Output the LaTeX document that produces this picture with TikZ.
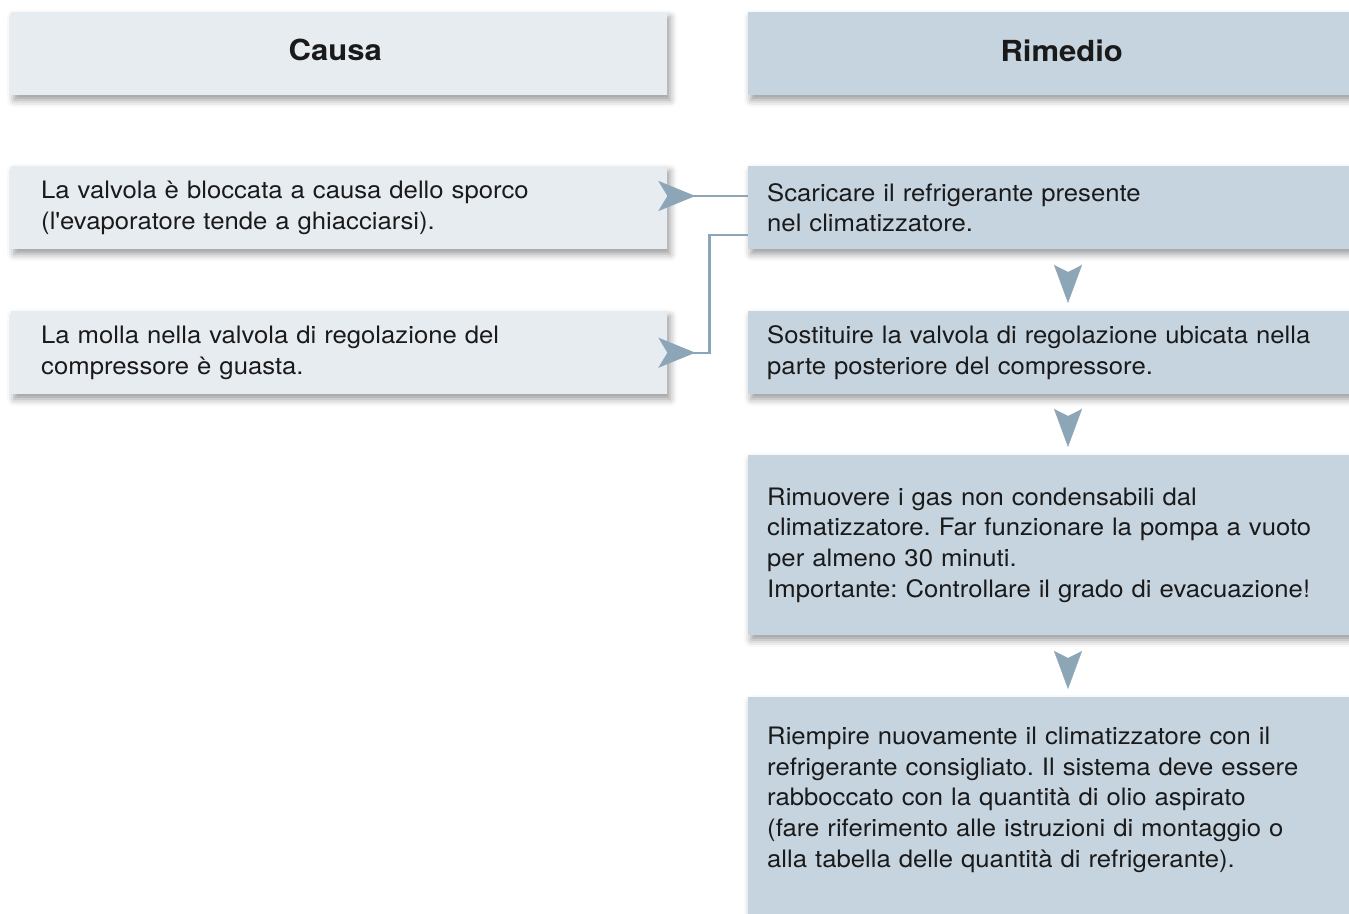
\documentclass[tikz,border=0pt]{standalone}
\usepackage{fontspec}
\setmainfont{TeX Gyre Heros}[FakeStretch=1.07]
\usetikzlibrary{arrows.meta,shadows.blur}
\definecolor{causefill}{HTML}{E7ECF1}
\definecolor{remfill}{HTML}{C6D4DF}
\definecolor{arrowc}{HTML}{8CA6B7}
\definecolor{txt}{HTML}{1A1A1A}
\frenchspacing
\tikzset{
  box/.style={anchor=north west, inner ysep=0pt, align=left, text=txt,
    font=\frenchspacing\fontsize{24}{30.8}\selectfont,
    blur shadow={shadow xshift=3pt, shadow yshift=-5pt, shadow blur radius=7pt, shadow opacity=40}},
  causebox/.style={box, fill=causefill, inner xsep=30pt, text width=596pt, minimum width=656pt},
  rembox/.style={box, fill=remfill, inner xsep=19pt, text width=603pt, minimum width=641pt},
  headfont/.style={align=center, font=\fontsize{29}{34}\selectfont\bfseries},
  hconn/.style={draw=arrowc, line width=2.2pt, {Stealth[reversed, length=37pt, width=30pt, inset=9pt]}-},
  vconn/.style={draw=arrowc, fill=arrowc, line width=0.4pt, -{Stealth[length=38pt, width=28pt, inset=7pt]}}
}
\begin{document}
\begin{tikzpicture}[x=1pt, y=-1pt]
\useasboundingbox (0,0) rectangle (1349,913);
\node[causebox, headfont, minimum height=83pt] (hc) at (11,12) {\hspace*{-8pt}\raisebox{7pt}{Causa}};
\node[rembox, headfont, minimum height=83pt, text width=575pt, inner xsep=33pt] (hr) at (748,12) {\hspace*{-14pt}\raisebox{7pt}{Rimedio}};
\node[causebox, minimum height=83pt] (c1) at (11,166) {La valvola è bloccata a causa dello sporco\\(l\textquotesingle evaporatore tende a ghiacciarsi).};
\node[causebox, minimum height=83pt] (c2) at (11,311) {La molla nella valvola di regolazione del\\compressore è guasta.};
\node[rembox, minimum height=83pt] (r1) at (748,166) {Scaricare il refrigerante presente\\nel climatizzatore.};
\node[rembox, minimum height=83pt] (r2) at (748,311) {Sostituire la valvola di regolazione ubicata nella\\parte posteriore del compressore.};
\node[rembox, minimum height=180pt] (r3) at (748,455) {Rimuovere i gas non condensabili dal\\climatizzatore. Far funzionare la pompa a vuoto\\per almeno 30 minuti.\\Importante: Controllare il grado di evacuazione!};
\node[rembox, minimum height=236pt] (r4) at (748,697) {Riempire nuovamente il climatizzatore con il\\refrigerante consigliato. Il sistema deve essere\\rabboccato con la quantità di olio aspirato\\(fare riferimento alle istruzioni di montaggio o\\alla tabella delle quantità di refrigerante).\\\rule{0pt}{30pt}};
\draw[hconn] ([xshift=-9pt, yshift=-30pt]c1.north east) -- ([yshift=-30pt]r1.north west);
\draw[hconn] ([xshift=-9pt]c2.east) -- ([xshift=42pt]c2.east) |- ([yshift=-69pt]r1.north west);
\draw[vconn] ([xshift=320pt, yshift=-23pt]r1.south west) -- ([xshift=320pt, yshift=8pt]r2.north west);
\draw[vconn] ([xshift=320pt, yshift=-23pt]r2.south west) -- ([xshift=320pt, yshift=8pt]r3.north west);
\draw[vconn] ([xshift=320pt, yshift=-23pt]r3.south west) -- ([xshift=320pt, yshift=8pt]r4.north west);
\end{tikzpicture}
\end{document}
